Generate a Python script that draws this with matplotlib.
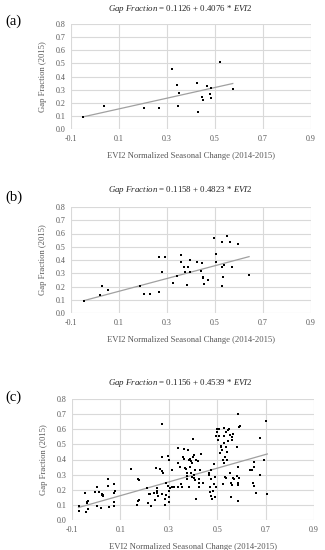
import matplotlib
matplotlib.use("Agg")
import matplotlib.pyplot as plt
import numpy as np

plt.rcParams['font.family'] = ['Liberation Serif', 'DejaVu Serif']
plt.rcParams['mathtext.fontset'] = 'custom'
plt.rcParams['mathtext.it'] = 'Liberation Serif:italic'
plt.rcParams['mathtext.rm'] = 'Liberation Serif'

# ---------------- data ----------------
a_x = [-0.049, 0.039, 0.203, 0.265, 0.319, 0.343, 0.350, 0.347, 0.424, 0.428,
       0.447, 0.451, 0.465, 0.481, 0.482, 0.485, 0.521, 0.574]
a_y = [0.089, 0.173, 0.160, 0.160, 0.457, 0.335, 0.274, 0.178, 0.353, 0.129,
       0.241, 0.218, 0.327, 0.269, 0.239, 0.315, 0.508, 0.307]
a_coef = (0.1126, 0.4076)

b_x = [-0.045, 0.022, 0.031, 0.055, 0.186, 0.205, 0.230, 0.267, 0.266, 0.291,
       0.280, 0.327, 0.343, 0.360, 0.357, 0.372, 0.375, 0.386, 0.383, 0.397,
       0.396, 0.425, 0.443, 0.447, 0.449, 0.452, 0.453, 0.471, 0.494, 0.505,
       0.504, 0.528, 0.530, 0.534, 0.528, 0.537, 0.551, 0.563, 0.571, 0.595,
       0.642]
b_y = [0.088, 0.133, 0.206, 0.176, 0.201, 0.146, 0.143, 0.158, 0.423, 0.425,
       0.312, 0.224, 0.277, 0.438, 0.387, 0.345, 0.307, 0.347, 0.211, 0.400,
       0.309, 0.385, 0.314, 0.377, 0.272, 0.262, 0.219, 0.252, 0.564, 0.448,
       0.382, 0.533, 0.347, 0.272, 0.206, 0.365, 0.579, 0.538, 0.345, 0.521,
       0.284]
b_coef = (0.1158, 0.4823)

c_x = [-0.073, -0.073, -0.047, -0.043, -0.039, -0.036, -0.033, -0.033, -0.006, 0.002,
       0.002, 0.013, 0.019, 0.022, 0.027, 0.023, 0.030, 0.049, 0.049, 0.052,
       0.073, 0.073, 0.075, 0.076, 0.073,
       0.145, 0.172, 0.175, 0.173, 0.177, 0.170, 0.210, 0.213, 0.218, 0.222,
       0.228, 0.237, 0.242, 0.246, 0.250, 0.251, 0.252, 0.254, 0.262, 0.270,
       0.273, 0.273, 0.272, 0.277, 0.283, 0.285, 0.288, 0.290, 0.295, 0.296,
       0.299, 0.300, 0.302, 0.299, 0.304,
       0.313, 0.314, 0.320, 0.337, 0.339, 0.340, 0.347, 0.351, 0.355, 0.358,
       0.363, 0.364, 0.369, 0.373, 0.374, 0.374, 0.377, 0.381, 0.382, 0.384,
       0.386, 0.389, 0.390, 0.392, 0.395, 0.396, 0.399, 0.401, 0.403, 0.404,
       0.405, 0.407, 0.408, 0.411, 0.412, 0.422, 0.423, 0.425, 0.426, 0.429,
       0.434, 0.440, 0.466, 0.467, 0.470, 0.472, 0.473, 0.475, 0.476, 0.479,
       0.483, 0.485, 0.487, 0.489, 0.490, 0.494, 0.497, 0.500, 0.501, 0.504,
       0.507, 0.508, 0.511, 0.514, 0.516, 0.519, 0.522, 0.524, 0.527, 0.528,
       0.528, 0.530, 0.531, 0.534, 0.535, 0.538, 0.541, 0.542, 0.545, 0.546,
       0.552, 0.554, 0.557, 0.558, 0.561, 0.562, 0.565, 0.582, 0.582, 0.586,
       0.586, 0.585, 0.586, 0.587, 0.594, 0.591, 0.636, 0.645, 0.650, 0.651,
       0.647, 0.650, 0.661, 0.676, 0.675, 0.695, 0.703, 0.707, 0.560, 0.535,
       0.569, 0.589, 0.549, 0.564]
c_y = [0.095, 0.060, 0.176, 0.055, 0.120, 0.115, 0.073, 0.125, 0.185, 0.216,
       0.093, 0.187, 0.077, 0.165, 0.159, 0.172, 0.163, 0.269, 0.225, 0.088,
       0.238, 0.119, 0.095, 0.192, 0.181,
       0.335, 0.271, 0.264, 0.126, 0.132, 0.097, 0.214, 0.115, 0.172, 0.170,
       0.095, 0.176, 0.130, 0.346, 0.194, 0.214, 0.181, 0.161, 0.337, 0.322,
       0.170, 0.633, 0.419, 0.313, 0.137, 0.101, 0.165, 0.242, 0.225, 0.425,
       0.397, 0.194, 0.150, 0.121, 0.214,
       0.331, 0.220, 0.220, 0.476, 0.379, 0.220, 0.348, 0.240, 0.220, 0.419,
       0.469, 0.401, 0.346, 0.337, 0.313, 0.273, 0.291, 0.463, 0.397, 0.220,
       0.401, 0.353, 0.313, 0.392, 0.287, 0.375, 0.414, 0.533, 0.430, 0.298,
       0.275, 0.331, 0.264, 0.137, 0.397, 0.390, 0.269, 0.242, 0.220, 0.331,
       0.436, 0.242, 0.309, 0.298, 0.187, 0.220, 0.269, 0.331, 0.159, 0.137,
       0.192, 0.370, 0.238, 0.154, 0.287, 0.555, 0.220, 0.584, 0.600, 0.529,
       0.555, 0.600, 0.445, 0.480, 0.489, 0.463, 0.397, 0.236, 0.606, 0.555,
       0.511, 0.375, 0.419, 0.282, 0.584, 0.480, 0.452, 0.397, 0.595, 0.520,
       0.562, 0.309, 0.154, 0.242, 0.547, 0.529, 0.275, 0.480, 0.291, 0.353,
       0.242, 0.231, 0.123, 0.701, 0.624, 0.617, 0.331, 0.331, 0.386, 0.353,
       0.242, 0.227, 0.181, 0.540, 0.295, 0.397, 0.657, 0.172, 0.229, 0.280,
       0.271, 0.280, 0.600, 0.567]
c_coef = (0.1156, 0.4539)

x_ticks = [-0.1, 0.1, 0.3, 0.5, 0.7, 0.9]
y_ticks = [0.0, 0.1, 0.2, 0.3, 0.4, 0.5, 0.6, 0.7, 0.8]
panel_labels = ['(a)', '(b)', '(c)']
titles = [r'$\mathit{Gap\ Fraction}$ = 0.1126 + 0.4076 * $\mathit{EVI2}$',
          r'$\mathit{Gap\ Fraction}$ = 0.1158 + 0.4823 * $\mathit{EVI2}$',
          r'$\mathit{Gap\ Fraction}$ = 0.1156 + 0.4539 * $\mathit{EVI2}$']
xlabel = 'EVI2 Normalized Seasonal Change (2014-2015)'
ylabel = 'Gap Fraction (2015)'

# ---------------- figure ----------------
W, H = 325, 550
fig = plt.figure(figsize=(W / 100, H / 100), dpi=100)

def px_axes(l, t, r, b):
    return [l / W, 1 - b / H, (r - l) / W, (b - t) / H]

axes_px = [(71, 24, 311, 129), (71, 207, 311, 313), (72, 399, 314, 520)]
title_y = [9, 190, 383]
label_y = [21, 197, 397]
data = [(a_x, a_y, a_coef), (b_x, b_y, b_coef), (c_x, c_y, c_coef)]

grid_c = '#d9d9d9'
text_c = '#595959'

for i, (xs, ys, coef) in enumerate(data):
    l, t, r, b = axes_px[i]
    ax = fig.add_axes(px_axes(l, t, r, b))
    ax.set_xlim(-0.1, 0.9)
    ax.set_ylim(0.0, 0.8)
    ax.set_xticks(x_ticks)
    ax.set_yticks(y_ticks)
    ax.set_xticklabels([f'{v:.1f}' for v in x_ticks])
    ax.set_yticklabels([f'{v:.1f}' for v in y_ticks])
    ax.tick_params(length=0, labelsize=5.8, colors=text_c, pad=4)
    ax.grid(True, color=grid_c, lw=0.8)
    ax.set_axisbelow(True)
    for s in ax.spines.values():
        s.set_visible(False)
    ax.scatter(xs, ys, s=3.5, marker='s', color='black', linewidths=0, zorder=3)
    x0, x1 = min(xs), max(xs)
    ax.plot([x0, x1], [coef[0] + coef[1] * x0, coef[0] + coef[1] * x1],
            color='#a0a0a0', lw=0.9, zorder=2)
    ax.set_xlabel(xlabel, fontsize=6.2, color=text_c)
    ax.set_ylabel(ylabel, fontsize=6.2, color=text_c)
    hpx = b - t
    ax.xaxis.set_label_coords(0.5, -23 / hpx)
    ax.yaxis.set_label_coords(-24 / (r - l), 0.5)
    fig.text(180 / W, 1 - title_y[i] / H, titles[i], ha='center', va='center',
             fontsize=6.4, color='#262626')
    fig.text(5 / W, 1 - label_y[i] / H, panel_labels[i], ha='left', va='center',
             fontsize=10.5, color='black')

fig.savefig('out.png', dpi=100)
